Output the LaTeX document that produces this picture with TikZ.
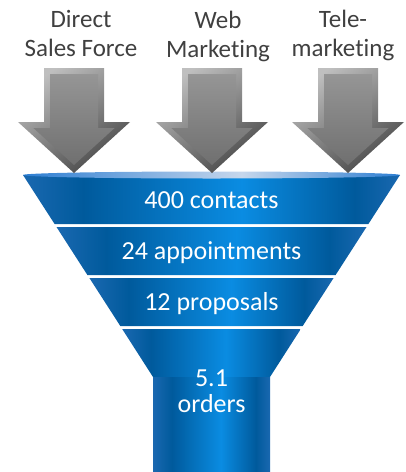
\documentclass[tikz,border=0pt]{standalone}
\usepackage{fontspec}
\setmainfont{Carlito}[Ligatures={NoCommon,NoRequired,NoContextual}]
\usepackage{tikz}
\usetikzlibrary{positioning}

\definecolor{fedge}{HTML}{1A68B0}
\definecolor{fdark}{HTML}{005A9C}
\definecolor{flight}{HTML}{0A8CE2}
\definecolor{rimblue}{HTML}{2D7ED2}
\definecolor{rimlight}{HTML}{C6D7EC}
\definecolor{labelgray}{HTML}{404040}
\definecolor{arrowface}{HTML}{838383}

\pgfdeclarehorizontalshading{funnelblue}{100bp}{color(0bp)=(fedge); color(25bp)=(fedge); color(33bp)=(fdark); color(54bp)=(flight); color(69bp)=(fdark); color(75bp)=(fedge); color(100bp)=(fedge)}
\pgfdeclarehorizontalshading{rimshade}{100bp}{color(0bp)=(rimblue); color(25bp)=(rimblue); color(54bp)=(rimlight); color(75bp)=(rimblue); color(100bp)=(rimblue)}

\tikzset{
  band/.style={shading=funnelblue},
  bandtext/.style={text=white, font=\fontsize{26}{26}\selectfont, inner sep=0pt},
  source/.style={text=labelgray, font=\fontsize{25}{29}\selectfont, align=center, inner sep=0pt}
}

\begin{document}
\begin{tikzpicture}[x=1pt,y=-1pt]
                \useasboundingbox (0,0) rectangle (405,472);
                % funnel
                \shade[band] (23,175) -- (400,175) -- (368.4,224) -- (54.6,224) -- cycle;
                \shade[band] (56.5,227) -- (366.5,227) -- (335.6,275) -- (87.4,275) -- cycle;
                \shade[band] (89.4,278) -- (333.6,278) -- (302.7,326) -- (120.3,326) -- cycle;
                \shade[band] (122.2,329) -- (300.8,329) -- (270,377) -- (153,377) -- cycle;
                \shade[band] (153,377) rectangle (270,472);
                \shade[shading=rimshade] (211.5,175) ellipse (188.5 and 3.5);
                \node[bandtext, anchor=base] (contacts) at (211.5,208) {400 contacts};
                \node[bandtext, anchor=base] (appts) at (211.5,259) {24 appointments};
                \node[bandtext, anchor=base] (proposals) at (211.5,310) {12 proposals};
                \node[bandtext, align=center, anchor=center] (orders) at (211.5,391) {5.1\\orders};
                % arrows
                \foreach \cx in {74,212,348} {
                    \shade[top color=gray!50, bottom color=black!72, shading angle=35] (\cx-30,68) -- (\cx+30,68) -- (\cx+30,122) -- (\cx+56,122) -- (\cx,173) -- (\cx-56,122) -- (\cx-30,122) -- cycle;
                    \shade[top color=arrowface!85, bottom color=arrowface!85!black] (\cx-24,74) -- (\cx+24,74) -- (\cx+24,128) -- (\cx+40.6,128) -- (\cx,165) -- (\cx-40.6,128) -- (\cx-24,128) -- cycle;
                }
                \node[source] (direct) at (81,33.5) {Direct\\Sales Force};
                \node[source] (web) at (218,36) {Web\\Marketing};
                \node[source] (tele) at (343,35) {Tele-\\marketing};
            \end{tikzpicture}
\end{document}
